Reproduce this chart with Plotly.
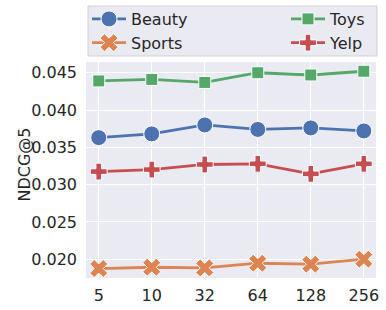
import plotly.graph_objects as go

x_labels = ["5", "10", "32", "64", "128", "256"]
beauty = [0.0363, 0.0368, 0.0380, 0.0374, 0.0376, 0.0372]
sports = [0.01875, 0.01892, 0.01883, 0.01946, 0.01933, 0.0200]
toys = [0.0439, 0.0441, 0.0437, 0.0450, 0.0447, 0.0452]
yelp = [0.03175, 0.03202, 0.0327, 0.03279, 0.03144, 0.03279]
y_ticks = [0.020, 0.025, 0.030, 0.035, 0.040, 0.045]

BLUE, ORANGE, GREEN, RED = "#4C72B0", "#DD8452", "#55A868", "#C44E52"
TXT = "#262626"
FONT = "DejaVu Sans"

fig = go.Figure()

def add(name, ys, color, symbol, size, legend):
    fig.add_trace(go.Scatter(
        x=x_labels, y=ys, name=name, mode="lines+markers",
        line=dict(color=color, width=2.8),
        marker=dict(symbol=symbol, size=size, color=color,
                    line=dict(color="white", width=1)),
        legend=legend,
    ))

add("Beauty", beauty, BLUE, "circle", 16, "legend")
add("Sports", sports, ORANGE, "x", 16, "legend")
add("Toys", toys, GREEN, "square", 12, "legend2")
add("Yelp", yelp, RED, "cross", 14, "legend2")

L, R, T, B = 86, 10, 62, 32
W, H = 386, 310
pw, ph = W - L - R, H - T - B

def px(x):
    return (x - L) / pw

def py(y):
    return 1 + (T - y) / ph

fig.add_shape(type="rect", xref="paper", yref="paper",
              x0=px(88), x1=px(377), y0=py(56), y1=py(6),
              fillcolor="#EAEAF2", line=dict(color="#D0D0D8", width=1),
              layer="below")

fig.add_annotation(text="NDCG@5", xref="paper", yref="paper",
                   x=px(23.5), y=py(165), textangle=-90, showarrow=False,
                   xanchor="center", yanchor="middle",
                   font=dict(size=16, color=TXT, family=FONT))

fig.update_layout(
    width=W, height=H,
    margin=dict(l=L, r=R, t=T, b=B, autoexpand=False),
    paper_bgcolor="white",
    plot_bgcolor="#EAEAF2",
    font=dict(family=FONT, size=16, color=TXT),
    legend=dict(x=px(87), xanchor="left", y=py(2), yanchor="top",
                bgcolor="rgba(0,0,0,0)", borderwidth=0,
                font=dict(size=16), itemwidth=34),
    legend2=dict(x=px(371), xanchor="right", y=py(2), yanchor="top",
                 bgcolor="rgba(0,0,0,0)", borderwidth=0,
                 font=dict(size=16), itemwidth=34),
    xaxis=dict(type="category", range=[-0.24, 5.23], showgrid=True,
               gridcolor="white", gridwidth=1.2, zeroline=False,
               ticks="", ticklabelstandoff=6, showline=False,
               tickfont=dict(size=16, color=TXT)),
    yaxis=dict(range=[0.01748, 0.04644], tickvals=y_ticks, tickformat=".3f",
               showgrid=True, gridcolor="white", gridwidth=1.2,
               zeroline=False, ticks="", ticklabelstandoff=8, showline=False,
               tickfont=dict(size=16, color=TXT)),
)

fig.write_html("out.html",
               config={"displayModeBar": False},
               post_script="document.body.style.margin='0px';"
                           "document.body.style.overflow='hidden';")
